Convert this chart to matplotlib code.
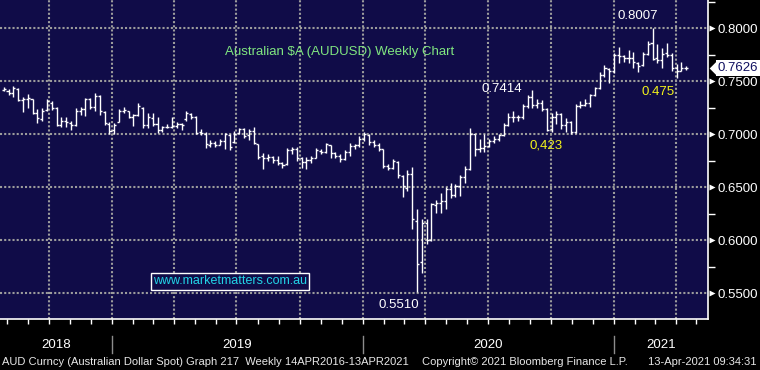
import pandas as pd
import matplotlib
matplotlib.use("Agg")
import matplotlib.pyplot as plt
import matplotlib.dates as mdates
import matplotlib.transforms as mtransforms
from matplotlib.ticker import FixedLocator, NullFormatter, FormatStrFormatter

plt.rcParams["font.family"] = ["Liberation Sans", "DejaVu Sans"]

# weekly AUDUSD bars, week ending Friday
week_ending = pd.date_range("2018-07-27", periods=143, freq="W-FRI")

opens = [
    0.742, 0.741, 0.739, 0.743, 0.732, 0.733, 0.733, 0.720, 0.714, 0.723,
    0.730, 0.725, 0.709, 0.713, 0.711, 0.709, 0.722, 0.724, 0.733, 0.726,
    0.736, 0.721, 0.710, 0.704, 0.712, 0.722, 0.722, 0.716, 0.718, 0.725,
    0.709, 0.715, 0.710, 0.704, 0.707, 0.707, 0.708, 0.710, 0.714, 0.719,
    0.716, 0.702, 0.700, 0.690, 0.692, 0.690, 0.694, 0.699, 0.693, 0.701,
    0.705, 0.699, 0.703, 0.691, 0.680, 0.678, 0.679, 0.676, 0.673, 0.672,
    0.685, 0.686, 0.678, 0.674, 0.676, 0.678, 0.684, 0.683, 0.690, 0.682,
    0.680, 0.677, 0.683, 0.689, 0.690, 0.696, 0.699, 0.693, 0.690, 0.686,
    0.670, 0.668, 0.674, 0.661, 0.649, 0.663, 0.618, 0.580, 0.616, 0.600,
    0.633, 0.635, 0.637, 0.648, 0.643, 0.651, 0.660, 0.667, 0.700, 0.686,
    0.687, 0.689, 0.694, 0.696, 0.699, 0.709, 0.716, 0.716, 0.716, 0.727,
    0.735, 0.728, 0.730, 0.724, 0.705, 0.716, 0.719, 0.709, 0.712, 0.702,
    0.727, 0.728, 0.730, 0.737, 0.744, 0.756, 0.762, 0.760, 0.775, 0.774,
    0.772, 0.772, 0.767, 0.765, 0.776, 0.786, 0.772, 0.770, 0.777, 0.775,
    0.763, 0.760, 0.763,
]
highs = [
    0.745, 0.743, 0.746, 0.744, 0.735, 0.738, 0.733, 0.724, 0.725, 0.733,
    0.731, 0.726, 0.716, 0.716, 0.713, 0.725, 0.726, 0.734, 0.734, 0.739,
    0.737, 0.722, 0.712, 0.711, 0.724, 0.726, 0.722, 0.719, 0.730, 0.726,
    0.720, 0.720, 0.716, 0.708, 0.710, 0.716, 0.712, 0.711, 0.722, 0.720,
    0.717, 0.705, 0.702, 0.695, 0.694, 0.696, 0.701, 0.700, 0.703, 0.706,
    0.706, 0.705, 0.707, 0.691, 0.682, 0.681, 0.680, 0.680, 0.674, 0.687,
    0.688, 0.688, 0.679, 0.679, 0.680, 0.687, 0.686, 0.692, 0.690, 0.683,
    0.681, 0.685, 0.692, 0.691, 0.698, 0.702, 0.700, 0.695, 0.692, 0.686,
    0.672, 0.677, 0.675, 0.662, 0.666, 0.669, 0.630, 0.620, 0.620, 0.635,
    0.638, 0.645, 0.650, 0.654, 0.653, 0.662, 0.670, 0.706, 0.700, 0.696,
    0.700, 0.696, 0.698, 0.700, 0.711, 0.720, 0.722, 0.718, 0.729, 0.737,
    0.7414, 0.733, 0.732, 0.725, 0.720, 0.722, 0.720, 0.715, 0.713, 0.729,
    0.731, 0.733, 0.738, 0.745, 0.759, 0.765, 0.763, 0.777, 0.782, 0.775,
    0.780, 0.778, 0.768, 0.778, 0.788, 0.8007, 0.785, 0.781, 0.786, 0.777,
    0.766, 0.768, 0.764,
]
lows = [
    0.741, 0.737, 0.735, 0.731, 0.721, 0.725, 0.719, 0.711, 0.713, 0.722,
    0.723, 0.708, 0.707, 0.707, 0.704, 0.708, 0.718, 0.717, 0.724, 0.722,
    0.718, 0.709, 0.700, 0.700, 0.712, 0.720, 0.715, 0.708, 0.717, 0.706,
    0.706, 0.708, 0.701, 0.702, 0.706, 0.706, 0.706, 0.704, 0.713, 0.714,
    0.700, 0.699, 0.687, 0.688, 0.688, 0.690, 0.686, 0.685, 0.692, 0.700,
    0.697, 0.695, 0.691, 0.677, 0.667, 0.675, 0.673, 0.671, 0.668, 0.671,
    0.681, 0.675, 0.668, 0.667, 0.673, 0.678, 0.681, 0.682, 0.678, 0.678,
    0.674, 0.676, 0.680, 0.686, 0.688, 0.694, 0.690, 0.688, 0.684, 0.668,
    0.666, 0.667, 0.659, 0.641, 0.647, 0.611, 0.551, 0.569, 0.597, 0.599,
    0.626, 0.626, 0.630, 0.640, 0.641, 0.642, 0.654, 0.666, 0.680, 0.683,
    0.683, 0.688, 0.692, 0.694, 0.698, 0.708, 0.712, 0.713, 0.714, 0.725,
    0.725, 0.725, 0.722, 0.703, 0.702, 0.710, 0.705, 0.702, 0.700, 0.701,
    0.725, 0.727, 0.726, 0.736, 0.743, 0.754, 0.748, 0.758, 0.767, 0.768,
    0.767, 0.763, 0.759, 0.764, 0.775, 0.770, 0.767, 0.763, 0.773, 0.760,
    0.753, 0.760, 0.761,
]
closes = [
    0.743, 0.739, 0.744, 0.732, 0.733, 0.734, 0.720, 0.715, 0.722, 0.731,
    0.725, 0.709, 0.713, 0.712, 0.709, 0.722, 0.724, 0.733, 0.726, 0.736,
    0.722, 0.711, 0.703, 0.709, 0.722, 0.723, 0.716, 0.718, 0.727, 0.709,
    0.716, 0.710, 0.704, 0.707, 0.707, 0.708, 0.710, 0.709, 0.720, 0.716,
    0.701, 0.701, 0.691, 0.692, 0.690, 0.694, 0.700, 0.688, 0.700, 0.705,
    0.698, 0.703, 0.692, 0.679, 0.678, 0.679, 0.676, 0.673, 0.671, 0.685,
    0.686, 0.678, 0.674, 0.676, 0.678, 0.685, 0.683, 0.691, 0.682, 0.680,
    0.677, 0.683, 0.689, 0.690, 0.696, 0.700, 0.693, 0.690, 0.686, 0.670,
    0.668, 0.675, 0.662, 0.651, 0.663, 0.620, 0.578, 0.616, 0.600, 0.634,
    0.635, 0.637, 0.648, 0.643, 0.651, 0.660, 0.667, 0.700, 0.686, 0.687,
    0.689, 0.694, 0.696, 0.699, 0.709, 0.716, 0.716, 0.716, 0.727, 0.735,
    0.728, 0.730, 0.724, 0.704, 0.716, 0.719, 0.709, 0.712, 0.702, 0.727,
    0.728, 0.730, 0.737, 0.744, 0.756, 0.763, 0.760, 0.775, 0.774, 0.772,
    0.772, 0.768, 0.764, 0.776, 0.785, 0.771, 0.770, 0.776, 0.775, 0.763,
    0.760, 0.763, 0.7626,
]

price_ticks = [0.55, 0.60, 0.65, 0.70, 0.75, 0.80]
minor_price_ticks = [0.525, 0.575, 0.625, 0.675, 0.725, 0.775, 0.825]
year_labels = ["2018", "2019", "2020", "2021"]
last_price = 0.7626

# label text, bar index, which end, colour, offset in pixels
notes = [
    ("0.8007", 135, "high", "white", -15, 12),
    ("0.7414", 110, "high", "white", -31, 1),
    ("0,423", 113, "low", "#f2f21a", -1, -14),
    ("0.475", 140, "low", "#f2f21a", -19, -14),
    ("0.5510", 86, "low", "white", -18, -13),
]

NAVY = "#100c48"
GRID = "#9c9c9c"

fig = plt.figure(figsize=(7.6, 3.7), dpi=100, facecolor="black")
ax = fig.add_axes([0, 51 / 370, 708 / 760, 319 / 370])
ax.set_facecolor(NAVY)

x = mdates.date2num(week_ending)
half = 3.0
ax.vlines(x, lows, highs, color="white", lw=1.0, zorder=3)
ax.hlines(opens, x - half, x, color="white", lw=1.0, zorder=3)
ax.hlines(closes, x, x + half, color="white", lw=1.0, zorder=3)

px_per_day = 0.6866
x_left = x[0] - 5.4
x_right = x_left + 708 / px_per_day
ax.set_xlim(x_left, x_right)
ax.set_ylim(0.5258, 0.8267)

# x axis: monthly ticks, quarterly grid
ax.xaxis.set_major_locator(mdates.MonthLocator(bymonth=[1, 4, 7, 10]))
ax.xaxis.set_minor_locator(mdates.MonthLocator())
ax.xaxis.set_major_formatter(NullFormatter())
ax.xaxis.set_minor_formatter(NullFormatter())
ax.tick_params(axis="x", which="both", direction="out", length=3.5, width=1, color="white")

# y axis on the right
ax.yaxis.tick_right()
ax.yaxis.set_major_locator(FixedLocator(price_ticks))
ax.yaxis.set_minor_locator(FixedLocator(minor_price_ticks))
ax.yaxis.set_major_formatter(FormatStrFormatter("%.4f"))
ax.tick_params(axis="y", which="major", length=0, pad=7, labelsize=9.5, labelcolor="white")
ax.tick_params(axis="y", which="minor", direction="out", length=5, width=1, color="white")

ax.set_axisbelow(True)
ax.grid(which="major", color=GRID, linestyle=(0, (1, 1)), linewidth=1.5)

for s in ["top", "left"]:
    ax.spines[s].set_visible(False)
for s in ["right", "bottom"]:
    ax.spines[s].set_color("white")
    ax.spines[s].set_linewidth(1.2)

ytrans = mtransforms.blended_transform_factory(ax.transAxes, ax.transData)
xtrans = mtransforms.blended_transform_factory(ax.transData, ax.transAxes)

# pointer triangles on the price labels
ax.plot([1.005] * len(price_ticks), price_ticks, ">", color="white", ms=5,
        mec="none", transform=ytrans, clip_on=False)

# last price tag
tag = [(-0.5, 0), (0.5, 1), (0.5, -1)]
ax.plot([1.0075], [last_price], marker=tag, ms=11, color="white", mec="none",
        transform=ytrans, clip_on=False, zorder=6)
ax.text(1.0135, last_price, f"{last_price:.4f}", transform=ytrans, ha="left",
        va="center", fontsize=9.5, color="#101060", zorder=7,
        bbox=dict(boxstyle="square,pad=0.12", fc="white", ec="none"))

# title and watermark
ax.text(0.479, 0.837, "Australian \\$A (AUDUSD) Weekly Chart", transform=ax.transAxes,
        ha="center", va="center", color="#80e680", fontsize=9.5)
ax.text(0.325, 0.1176, "www.marketmatters.com.au", transform=ax.transAxes,
        ha="center", va="center", color="#22d4e6", fontsize=9,
        bbox=dict(boxstyle="square,pad=0.18", fc=NAVY, ec="white", lw=1))

for text, i, kind, color, dx, dy in notes:
    yv = highs[i] if kind == "high" else lows[i]
    ax.annotate(text, (x[i], yv), xytext=(dx, dy), textcoords="offset pixels",
                ha="center", va="center", color=color, fontsize=9.5)

# year labels and separators under the axis
year_starts = [mdates.date2num(pd.Timestamp(f"{y}-01-01")) for y in year_labels[1:]]
edges = [x_left] + year_starts + [x_right]
for k, label in enumerate(year_labels):
    ax.text((edges[k] + edges[k + 1]) / 2, -0.082, label, transform=xtrans,
            ha="center", va="center", color="white", fontsize=9.5)
for xs in year_starts:
    ax.plot([xs, xs], [-0.053, -0.107], color="#8c8c8c", lw=1, transform=xtrans,
            clip_on=False)

# footer
fy = 1 - 362 / 370
fig.text(2 / 760, fy, "AUD Curncy (Australian Dollar Spot) Graph 217  Weekly 14APR2016-13APR2021",
         color="#e8e8e8", fontsize=8.0, va="center", ha="left")
fig.text(422 / 760, fy, "Copyright\u00a9 2021 Bloomberg Finance L.P.",
         color="#e8e8e8", fontsize=8.0, va="center", ha="left")
fig.text(757 / 760, fy, "13-Apr-2021 09:34:31",
         color="#e8e8e8", fontsize=8.0, va="center", ha="right")

fig.savefig("out.png", dpi=100, facecolor="black")
